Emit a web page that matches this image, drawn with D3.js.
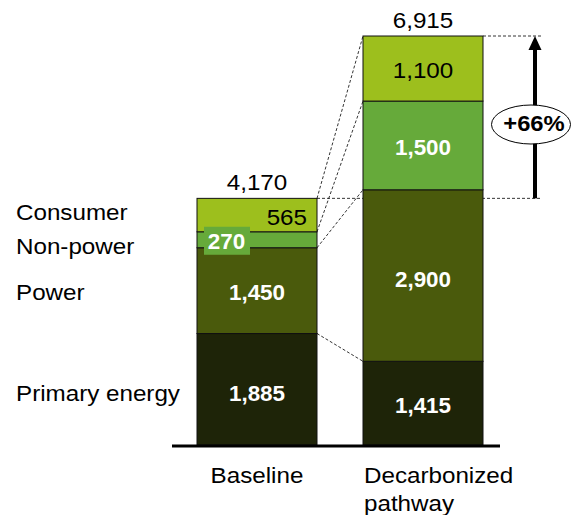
<!DOCTYPE html>
<html><head><meta charset="utf-8">
<script src="https://cdn.jsdelivr.net/npm/d3@7"></script>
<style>body{margin:0;background:#fff}svg{display:block;font-family:Arial,"Liberation Sans",sans-serif}</style>
</head><body>
<svg id="c" width="571" height="515"></svg>
<script>
const categories = ["Baseline", "Decarbonized pathway"];
const series = ["Primary energy", "Power", "Non-power", "Consumer"];
const baselineValues = [1885, 1450, 270, 565];
const decarbValues = [1415, 2900, 1500, 1100];
const totals = [4170, 6915];
const growthLabel = "+66%";
const colors = ["#1e2408", "#4a5a0c", "#66aa3a", "#9dbf1d"];

const svg = d3.select("#c");
const x = d3.scaleBand().domain(categories).range([197, 483]).paddingInner(46/166).paddingOuter(0);
const y = d3.scaleLinear().domain([0, 6915]).range([445, 36]);
const fmt = d3.format(",");
const SX = 1.1; // horizontal stretch of the regular text in the reference

function txt(px, py, s, o = {}) {
  return svg.append("text")
    .attr("transform", `translate(${px},${py}) scale(${o.sx || SX},1)`)
    .attr("text-anchor", o.anchor || "start")
    .attr("font-size", o.size || 22)
    .attr("font-weight", o.bold ? "bold" : "normal")
    .attr("fill", o.fill || "#000")
    .text(s);
}

const data = [baselineValues, decarbValues];
const stacks = data.map(vals => {
  let acc = 0;
  return vals.map((v, i) => { const d = {s: series[i], y0: acc, y1: acc + v, v}; acc += v; return d; });
});

const bx1 = x(categories[0]) + x.bandwidth();
const dx0 = x(categories[1]);

// connecting dashed lines
svg.selectAll("line.conn").data(series.map((s, i) => ({a: stacks[0][i].y1, b: stacks[1][i].y1})))
  .join("line").attr("class", "conn")
  .attr("x1", bx1).attr("y1", d => y(d.a)).attr("x2", dx0).attr("y2", d => y(d.b))
  .attr("stroke", "#000").attr("stroke-width", 0.8).attr("stroke-dasharray", "3,2");

// horizontal dashed reference lines
[[bx1, totals[0]], [dx0 + x.bandwidth(), totals[1]]].forEach(([x0, t]) => {
  svg.append("line").attr("x1", x0).attr("x2", 542).attr("y1", y(t)).attr("y2", y(t))
    .attr("stroke", "#000").attr("stroke-width", 0.8).attr("stroke-dasharray", "3,2");
});

// bars
stacks.forEach((st, k) => {
  svg.append("g").selectAll("rect").data(st).join("rect")
    .attr("x", x(categories[k])).attr("width", x.bandwidth())
    .attr("y", d => y(d.y1)).attr("height", d => y(d.y0) - y(d.y1))
    .attr("fill", (d, i) => colors[i]).attr("stroke", "#111").attr("stroke-width", 1);
});

// axis baseline
svg.append("line").attr("x1", 172).attr("x2", 500).attr("y1", 446).attr("y2", 446)
  .attr("stroke", "#000").attr("stroke-width", 3);

// value labels
function lbl(k, i, o) {
  const d = stacks[k][i];
  const cx = x(categories[k]) + x.bandwidth() / 2 + (o.dx || 0);
  const cy = (y(d.y0) + y(d.y1)) / 2 + 9.5 + (o.dy || 0);
  txt(cx, cy, fmt(d.v), {anchor: o.anchor || "middle", bold: o.bold, fill: o.fill, sx: o.bold ? 1.02 : SX});
}
lbl(0, 0, {bold: true, fill: "#fff", dy: 2});
lbl(0, 1, {bold: true, fill: "#fff"});
lbl(0, 3, {fill: "#000", dx: 50, anchor: "end"});
lbl(1, 0, {bold: true, fill: "#fff"});
lbl(1, 1, {bold: true, fill: "#fff", dy: 2});
lbl(1, 2, {bold: true, fill: "#fff"});
lbl(1, 3, {fill: "#000"});

// 270 label with box
{
  const d = stacks[0][2];
  const cy = (y(d.y0) + y(d.y1)) / 2 + 1;
  svg.append("rect").attr("x", 204).attr("y", cy - 14).attr("width", 46).attr("height", 28).attr("fill", colors[2]);
  txt(226.5, cy + 8.5, fmt(d.v), {anchor: "middle", bold: true, fill: "#fff", sx: 1.02});
}

// totals
totals.forEach((t, k) => {
  txt(x(categories[k]) + x.bandwidth() / 2, y(t) - 8.5, fmt(t), {anchor: "middle"});
});

// left series labels
const leftY = [401, 300, 254, 220];
series.forEach((s, i) => txt(16, leftY[i], s));

// category labels
txt(x(categories[0]) + x.bandwidth() / 2, 483, categories[0], {anchor: "middle"});
txt(dx0 + 1, 483, "Decarbonized");
txt(dx0 + 1, 511, "pathway");

// arrow
const ax = 535;
svg.append("line").attr("x1", ax).attr("x2", ax).attr("y1", y(totals[0])).attr("y2", y(totals[1]) + 12)
  .attr("stroke", "#000").attr("stroke-width", 4);
svg.append("path").attr("d", `M${ax},${y(totals[1])} L${ax-6.5},${y(totals[1])+14} L${ax+6.5},${y(totals[1])+14} Z`).attr("fill", "#000");
svg.append("ellipse").attr("cx", 531).attr("cy", 124.5).attr("rx", 39.5).attr("ry", 19.5)
  .attr("fill", "#fff").attr("stroke", "#000").attr("stroke-width", 1);
txt(534, 131, growthLabel, {anchor: "middle", bold: true, sx: 1.08});
</script>
</body></html>
